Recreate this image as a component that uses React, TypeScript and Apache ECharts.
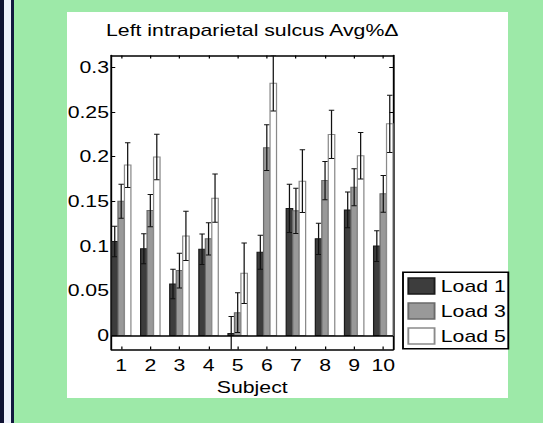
import React, { useEffect, useRef } from "react";
import * as echarts from "echarts";

// ---- data ----
const subjects = [1, 2, 3, 4, 5, 6, 7, 8, 9, 10];
const seriesNames = ["Load 1", "Load 3", "Load 5"];
const load1 = [0.105, 0.097, 0.0576, 0.0964, 0.0022, 0.093, 0.142, 0.108, 0.1404, 0.1];
const load1Err = [0.017, 0.0167, 0.0165, 0.017, 0.019, 0.019, 0.027, 0.0175, 0.02, 0.0172];
const load3 = [0.15, 0.1396, 0.0725, 0.108, 0.0255, 0.21, 0.1393, 0.1732, 0.1657, 0.1583];
const load3Err = [0.019, 0.018, 0.0195, 0.018, 0.0223, 0.0255, 0.0253, 0.0214, 0.0208, 0.0205];
const load5 = [0.1905, 0.1995, 0.1113, 0.1535, 0.0695, 0.282, 0.1725, 0.2248, 0.2008, 0.2366];
const load5Err = [0.025, 0.0255, 0.0275, 0.027, 0.0338, 0.031, 0.035, 0.027, 0.026, 0.032];
const yTicks = [0, 0.05, 0.1, 0.15, 0.2, 0.25, 0.3];

const values = [load1, load3, load5];
const errors = [load1Err, load3Err, load5Err];
const fills = ["#3d3d3d", "#999999", "#ffffff"];
const strokes = ["#1a1a1a", "#6a6a6a", "#8a8a8a"];

const SX = 1.25;
const W = 543;
const H = 423;
const FONT = "'Liberation Sans', Arial, Helvetica, sans-serif";

export default function App() {
  const ref = useRef<HTMLDivElement>(null);

  useEffect(() => {
    const chart = echarts.init(ref.current as HTMLDivElement, null, { renderer: "svg" });

    const makeSeries = (k: number) => ({
      type: "custom",
      name: seriesNames[k],
      clip: true,
      data: subjects.map((s, i) => [s, values[k][i], errors[k][i]]),
      encode: { x: 0, y: 1 },
      itemStyle: { color: fills[k], borderColor: strokes[k] },
      renderItem: (params: any, api: any) => {
        const x = api.value(0);
        const v = api.value(1);
        const e = api.value(2);
        const x0 = x - 1 / 3 + k * (2 / 9);
        const x1 = x0 + 2 / 9;
        const xc = (x0 + x1) / 2;
        const p0 = api.coord([x0, 0]);
        const p1 = api.coord([x1, v]);
        const top = api.coord([xc, v + e]);
        const bot = api.coord([xc, v - e]);
        const capHalf = (p1[0] - p0[0]) * 0.42;
        const lineStyle = { stroke: "#111", lineWidth: 1 };
        return {
          type: "group",
          children: [
            {
              type: "rect",
              shape: { x: p0[0], y: p1[1], width: p1[0] - p0[0], height: p0[1] - p1[1] },
              style: { fill: fills[k], stroke: strokes[k], lineWidth: 1 },
            },
            { type: "line", shape: { x1: top[0], y1: top[1], x2: bot[0], y2: bot[1] }, style: lineStyle },
            { type: "line", shape: { x1: top[0] - capHalf, y1: top[1], x2: top[0] + capHalf, y2: top[1] }, style: lineStyle },
            { type: "line", shape: { x1: bot[0] - capHalf, y1: bot[1], x2: bot[0] + capHalf, y2: bot[1] }, style: lineStyle },
          ],
        };
      },
      ...(k === 0
        ? {
            markLine: {
              silent: true,
              symbol: "none",
              label: { show: false },
              lineStyle: { color: "#000", width: 1.5, type: "solid" },
              data: [{ yAxis: 0 }],
            },
          }
        : {}),
    });

    const axisLine = { show: true, onZero: false, lineStyle: { color: "#000", width: 1.5 } };
    const tickStyle = { color: "#000", width: 1 };
    const labelStyle = { fontSize: 17, color: "#000", fontFamily: FONT };

    const option: any = {
      animation: false,
      title: {
        text: "Left intraparietal sulcus Avg%Δ",
        left: 201.8,
        top: 21.7,
        textAlign: "center",
        padding: 0,
        textStyle: { fontSize: 17, fontWeight: "normal", color: "#000", fontFamily: FONT },
      },
      grid: { left: 89.2, top: 55.5, width: 225.2, height: 294 },
      xAxis: [
        {
          type: "value",
          position: "bottom",
          min: 2 / 3,
          max: 10 + 1 / 3,
          axisLine,
          axisTick: { show: true, inside: true, length: 3, customValues: subjects, lineStyle: tickStyle },
          axisLabel: { customValues: subjects, margin: 7.5, ...labelStyle },
          splitLine: { show: false },
          name: "Subject",
          nameLocation: "middle",
          nameGap: 23,
          nameTextStyle: labelStyle,
        },
        {
          type: "value",
          position: "top",
          min: 2 / 3,
          max: 10 + 1 / 3,
          axisLine,
          axisTick: { show: true, inside: true, length: 3, customValues: subjects, lineStyle: tickStyle },
          axisLabel: { show: false },
          splitLine: { show: false },
        },
      ],
      yAxis: [
        {
          type: "value",
          position: "left",
          min: -0.0157,
          max: 0.313,
          axisLine,
          axisTick: { show: true, inside: true, length: 3, customValues: yTicks, lineStyle: tickStyle },
          axisLabel: { customValues: yTicks, margin: 2, formatter: (v: number) => String(v), ...labelStyle },
          splitLine: { show: false },
        },
        {
          type: "value",
          position: "right",
          min: -0.0157,
          max: 0.313,
          axisLine,
          axisTick: { show: true, inside: true, length: 3, customValues: yTicks, lineStyle: tickStyle },
          axisLabel: { show: false },
          splitLine: { show: false },
        },
      ],
      legend: {
        orient: "vertical",
        left: 322.4,
        top: 272.3,
        padding: [5, 2, 4, 3.5],
        itemWidth: 21,
        itemHeight: 16,
        itemGap: 7.5,
        icon: "rect",
        borderColor: "#000",
        borderWidth: 1.5,
        borderRadius: 0,
        backgroundColor: "#fff",
        selectedMode: false,
        textStyle: { fontSize: 17, color: "#000", fontFamily: FONT },
        data: seriesNames.map((n, k) => ({
          name: n,
          itemStyle: { color: fills[k], borderColor: strokes[k], borderWidth: 1.5 },
        })),
      },
      series: [0, 1, 2].map(makeSeries),
    };

    chart.setOption(option);
    return () => chart.dispose();
  }, []);

  return (
    <div style={{ position: "fixed", left: 0, top: 0, width: W, height: H, overflow: "hidden", background: "#9de9a8" }}>
      <div style={{ position: "absolute", left: 0, top: 0, width: 4, height: H, background: "#0f1233" }} />
      <div style={{ position: "absolute", left: 4, top: 0, width: 6.5, height: H, background: "#eef0fb" }} />
      <div style={{ position: "absolute", left: 10.5, top: 0, width: 3, height: H, background: "#12183f" }} />
      <div style={{ position: "absolute", left: 67, top: 12, width: 441, height: 386, background: "#ffffff" }} />
      <div
        ref={ref}
        style={{
          position: "absolute",
          left: 0,
          top: 0,
          width: W / SX,
          height: H,
          transform: `scaleX(${SX})`,
          transformOrigin: "0 0",
        }}
      />
    </div>
  );
}
